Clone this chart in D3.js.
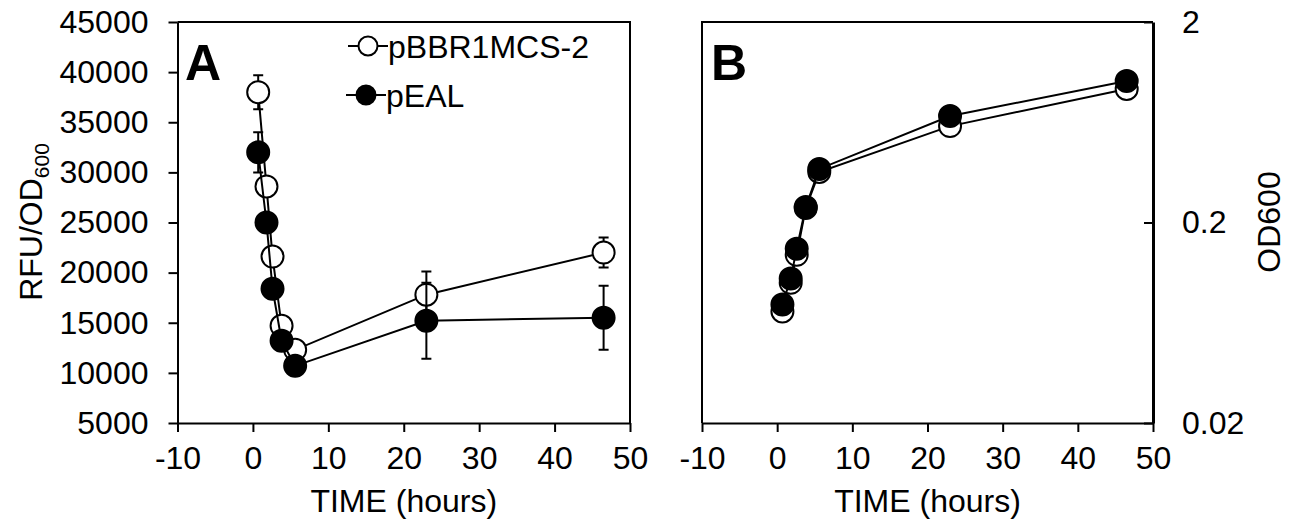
<!DOCTYPE html>
<html>
<head>
<meta charset="utf-8">
<script src="https://cdn.jsdelivr.net/npm/d3@7"></script>
<style>
  body { margin: 0; background: #fff; }
  svg text { font-family: "Liberation Sans", Arial, sans-serif; fill: #000; }
</style>
</head>
<body>
<div id="wrapper"></div>
<script>
// time points (hours)
const timeA = [0.7, 1.8, 2.6, 3.8, 5.6, 23, 46.5]
// panel A: RFU/OD600
const rfuVector = [38000, 28600, 21600, 14700, 12300, 17800, 22000]
const rfuVectorErr = [1700, 300, 300, 300, 300, 2300, 1500]
const rfuEal = [32000, 25000, 18400, 13200, 10700, 15200, 15500]
const rfuEalErr = [2000, 300, 300, 300, 300, 3800, 3200]
// panel B: OD600 (log)
const odVector = [0.072, 0.100, 0.138, 0.236, 0.357, 0.605, 0.927]
const odEal = [0.078, 0.105, 0.148, 0.239, 0.370, 0.679, 1.016]

const xTicks = [-10, 0, 10, 20, 30, 40, 50]
const yTicksA = [5000, 10000, 15000, 20000, 25000, 30000, 35000, 40000, 45000]
const yTicksB = [0.02, 0.2, 2]
const seriesNames = ["pBBR1MCS-2", "pEAL"]

const width = 1293
const height = 525
const fontSize = 32
const tickLen = 9
const r = 11

const svg = d3.select("#wrapper").append("svg")
  .attr("width", width)
  .attr("height", height)

const plotTop = 22, plotBottom = 423

// ---------- panel A ----------
const xA = d3.scaleLinear().domain([-10, 50]).range([177.5, 630])
const yA = d3.scaleLinear().domain([5000, 45000]).range([plotBottom, plotTop])

const gA = svg.append("g")

// frame
gA.append("path")
  .attr("d", `M${xA(-10)},${plotTop}H${xA(50)}V${plotBottom}`)
  .attr("fill", "none").attr("stroke", "#000").attr("stroke-width", 2)

const xAxisA = gA.append("g")
  .attr("transform", `translate(0,${plotBottom})`)
  .call(d3.axisBottom(xA).tickValues(xTicks).tickSize(tickLen).tickPadding(10)
    .tickFormat(d => String(d)).tickSizeOuter(0))
const yAxisA = gA.append("g")
  .attr("transform", `translate(${xA(-10)},0)`)
  .call(d3.axisLeft(yA).tickValues(yTicksA).tickSize(tickLen).tickPadding(20)
    .tickFormat(d => String(d)).tickSizeOuter(0))

;[xAxisA, yAxisA].forEach(ax => {
  ax.select(".domain").attr("stroke-width", 2)
  ax.selectAll(".tick line").attr("stroke-width", 2)
  ax.selectAll("text").style("font-size", fontSize + "px").attr("fill", "#000")
})
xAxisA.selectAll("text").attr("dy", "0.85em")

const lineA = d3.line().x((d, i) => xA(timeA[i])).y(d => yA(d))

function drawSeries(g, values, errs, yScale, xScale, fill, line) {
  g.append("path")
    .datum(values)
    .attr("d", line)
    .attr("fill", "none").attr("stroke", "#000").attr("stroke-width", 2)
  if (errs) {
    const eb = g.append("g")
    values.forEach((v, i) => {
      const x = xScale(timeA[i])
      const y1 = yScale(v + errs[i]), y0 = yScale(v - errs[i])
      eb.append("path")
        .attr("d", `M${x},${y1}V${y0}M${x - 5},${y1}H${x + 5}M${x - 5},${y0}H${x + 5}`)
        .attr("stroke", "#000").attr("stroke-width", 2).attr("fill", "none")
    })
  }
  g.selectAll(null)
    .data(values)
    .enter().append("circle")
      .attr("cx", (d, i) => xScale(timeA[i]))
      .attr("cy", d => yScale(d))
      .attr("r", r)
      .attr("fill", fill)
      .attr("stroke", "#000")
      .attr("stroke-width", 2)
}

drawSeries(gA.append("g"), rfuVector, rfuVectorErr, yA, xA, "#fff", lineA)
drawSeries(gA.append("g"), rfuEal, rfuEalErr, yA, xA, "#000", lineA)

gA.append("text")
  .attr("x", 185).attr("y", 80)
  .style("font-size", "50px").style("font-weight", "bold")
  .text("A")

// legend
const legend = gA.append("g")
seriesNames.forEach((name, i) => {
  const cy = 46 + i * 49
  const cx = 368 - i * 2
  const row = legend.append("g")
  row.append("line")
    .attr("x1", cx - 20).attr("x2", cx + 20).attr("y1", cy).attr("y2", cy)
    .attr("stroke", "#000").attr("stroke-width", 2)
  row.append("circle")
    .attr("cx", cx).attr("cy", cy).attr("r", 9.5)
    .attr("fill", i === 0 ? "#fff" : "#000")
    .attr("stroke", "#000").attr("stroke-width", 2)
  row.append("text")
    .attr("x", cx + 20).attr("y", cy)
    .attr("dy", "0.36em")
    .style("font-size", fontSize + "px")
    .text(name)
})

// y label with subscript
const yLab = svg.append("text")
  .attr("transform", `translate(42,222) rotate(-90)`)
  .attr("text-anchor", "middle")
  .style("font-size", fontSize + "px")
yLab.append("tspan").text("RFU/OD")
yLab.append("tspan").text("600").attr("dy", 7).style("font-size", "21px")

svg.append("text")
  .attr("x", xA(20)).attr("y", 512)
  .attr("text-anchor", "middle")
  .style("font-size", fontSize + "px")
  .text("TIME (hours)")

// ---------- panel B ----------
const xB = d3.scaleLinear().domain([-10, 50]).range([702, 1153])
const yB = d3.scaleLog().domain([0.02, 2]).range([plotBottom, plotTop])

const gB = svg.append("g")
gB.append("path")
  .attr("d", `M${xB(-10)},${plotBottom}V${plotTop}H${xB(50)}`)
  .attr("fill", "none").attr("stroke", "#000").attr("stroke-width", 2)

const xAxisB = gB.append("g")
  .attr("transform", `translate(0,${plotBottom})`)
  .call(d3.axisBottom(xB).tickValues(xTicks).tickSize(tickLen).tickPadding(10)
    .tickFormat(d => String(d)).tickSizeOuter(0))
const yAxisB = gB.append("g")
  .attr("transform", `translate(${xB(50)},0)`)
  .call(d3.axisRight(yB).tickValues(yTicksB).tickSize(-tickLen).tickPadding(29)
    .tickFormat(d => String(d)).tickSizeOuter(0))

;[xAxisB, yAxisB].forEach(ax => {
  ax.select(".domain").attr("stroke-width", 2)
  ax.selectAll(".tick line").attr("stroke-width", 2)
  ax.selectAll("text").style("font-size", fontSize + "px").attr("fill", "#000")
})
xAxisB.selectAll("text").attr("dy", "0.85em")
yAxisB.select(".domain").attr("stroke-width", 3)

const lineB = d3.line().x((d, i) => xB(timeA[i])).y(d => yB(d))
drawSeries(gB.append("g"), odVector, null, yB, xB, "#fff", lineB)
drawSeries(gB.append("g"), odEal, null, yB, xB, "#000", lineB)

gB.append("text")
  .attr("x", 711).attr("y", 80)
  .style("font-size", "50px").style("font-weight", "bold")
  .text("B")

svg.append("text")
  .attr("x", xB(20)).attr("y", 512)
  .attr("text-anchor", "middle")
  .style("font-size", fontSize + "px")
  .text("TIME (hours)")

svg.append("text")
  .attr("transform", `translate(1280,222) rotate(-90)`)
  .attr("text-anchor", "middle")
  .style("font-size", fontSize + "px")
  .text("OD600")
</script>
</body>
</html>
